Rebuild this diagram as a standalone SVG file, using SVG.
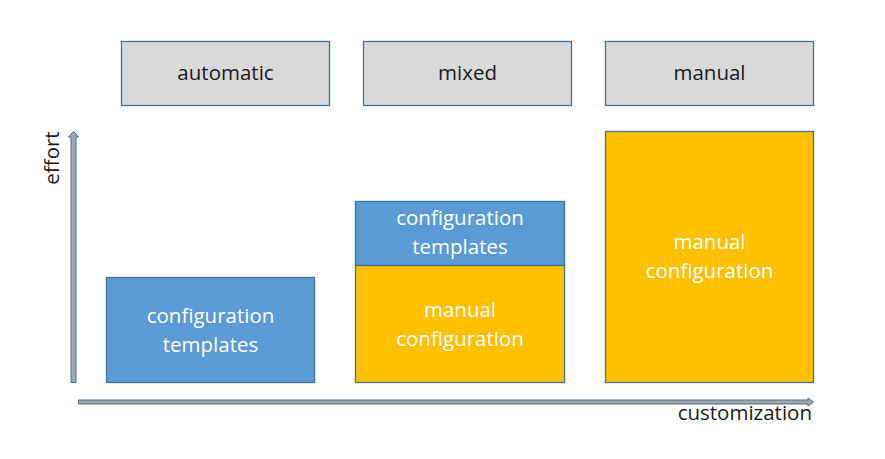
<svg xmlns="http://www.w3.org/2000/svg" width="885" height="459" viewBox="0 0 885 459">
<style>
text{font-family:"Open Sans","Liberation Sans",sans-serif;font-size:20.5px;text-anchor:middle}
.hdr{fill:#d9d9d9;stroke:#41719c;stroke-width:1.3}
.blue{fill:#5b9bd5;stroke:#41719c;stroke-width:1.3}
.orange{fill:#ffc000;stroke:#41719c;stroke-width:1.3}
.dark{fill:#1a1a1a}
.white{fill:#ffffff}
.axis{fill:#a6a6a6;stroke:#41719c;stroke-width:1}
</style>
<g id="automatic"><rect class="hdr" x="121.5" y="41.5" width="208" height="64"/><text class="dark" x="225.5" y="80">automatic</text></g>
<g id="mixed"><rect class="hdr" x="363.5" y="41.5" width="208" height="64"/><text class="dark" x="467.5" y="80">mixed</text></g>
<g id="manual"><rect class="hdr" x="605.5" y="41.5" width="208" height="64"/><text class="dark" x="709.5" y="80">manual</text></g>
<g id="auto-templates"><rect class="blue" x="106.5" y="277.5" width="208" height="105"/><text class="white" x="210.5" y="323">configuration</text><text class="white" x="210.5" y="352">templates</text></g>
<g id="mixed-templates"><rect class="blue" x="355.5" y="201.5" width="209" height="64"/><text class="white" x="460" y="225">configuration</text><text class="white" x="460" y="254">templates</text></g>
<g id="mixed-manual"><rect class="orange" x="355.5" y="265.5" width="209" height="117"/><text class="white" x="460" y="317">manual</text><text class="white" x="460" y="346">configuration</text></g>
<g id="manual-config"><rect class="orange" x="605.5" y="131.5" width="208" height="251"/><text class="white" x="709.5" y="249">manual</text><text class="white" x="709.5" y="278">configuration</text></g>
<g id="connectors">
<path class="axis" d="M71,382.5 L71,137 L68.5,137 L73.5,131.5 L78.5,137 L76,137 L76,382.5 Z"/>
<path class="axis" d="M78.5,400 L808,400 L808,398 L813.5,402 L808,406 L808,404 L78.5,404 Z"/>
</g>
<text class="dark" x="0" y="0" transform="translate(59,158) rotate(-90)">effort</text>
<text class="dark" x="812" y="420" style="text-anchor:end">customization</text>
</svg>
